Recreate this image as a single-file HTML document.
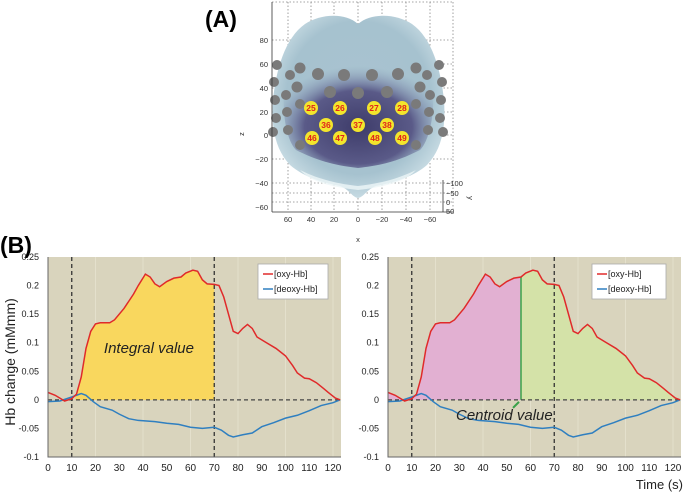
<!DOCTYPE html>
<html><head><meta charset="utf-8">
<style>
html,body{margin:0;padding:0;background:#fff;}
svg{display:block;font-family:"Liberation Sans",Arial,sans-serif;}
</style></head>
<body>
<svg id="fig" width="685" height="492" viewBox="0 0 685 492">
<defs>
<radialGradient id="headGrad" cx="0.5" cy="0.45" r="0.6">
<stop offset="0" stop-color="#a9c3d0"/><stop offset="0.7" stop-color="#a6c2cf"/><stop offset="1" stop-color="#d3e4ea"/>
</radialGradient>
<radialGradient id="darkGrad" cx="0.5" cy="0.6" r="0.6">
<stop offset="0" stop-color="#3e3c6a"/><stop offset="0.6" stop-color="#5a5a88"/><stop offset="1" stop-color="#8fa3bd" stop-opacity="0"/>
</radialGradient>
</defs>

<!-- Panel A -->
<text x="205" y="27" font-size="23" font-weight="bold">(A)</text>
<g>
  <g stroke="#888" stroke-width="0.8" stroke-dasharray="1.5,2" fill="none">
    <line x1="288" y1="2" x2="288" y2="210"/><line x1="311" y1="2" x2="311" y2="210"/><line x1="334" y1="2" x2="334" y2="210"/>
    <line x1="358" y1="2" x2="358" y2="210"/><line x1="382" y1="2" x2="382" y2="210"/><line x1="406" y1="2" x2="406" y2="210"/><line x1="430" y1="2" x2="430" y2="210"/>
    <line x1="272" y1="40" x2="453" y2="40"/><line x1="272" y1="64" x2="453" y2="64"/><line x1="272" y1="88" x2="453" y2="88"/>
    <line x1="272" y1="112" x2="453" y2="112"/><line x1="272" y1="135" x2="453" y2="135"/><line x1="272" y1="159" x2="453" y2="159"/>
    <line x1="272" y1="183" x2="453" y2="183"/><line x1="272" y1="193" x2="453" y2="193"/><line x1="272" y1="202" x2="453" y2="202"/>
    <line x1="272" y1="2" x2="453" y2="2"/><line x1="453" y1="2" x2="453" y2="210"/>
  </g>
  <path d="M358,24 C345,12 320,14 305,24 C285,38 276,70 273,100 C271,130 276,150 290,165 C305,178 325,183 340,186 C350,190 352,197 358,198 C364,197 366,190 376,186 C391,183 412,178 427,165 C441,150 446,130 444,100 C441,70 432,38 412,24 C397,14 372,12 358,24 Z" fill="url(#headGrad)"/>
  <path d="M285,80 C300,70 330,66 358,66 C386,66 416,70 432,80 C436,110 430,140 420,150 C400,160 385,165 358,168 C332,165 316,160 296,150 C286,140 281,110 285,80 Z" fill="url(#darkGrad)"/>
  <path d="M300,170 C320,180 340,184 358,186 C376,184 396,180 416,170 C405,182 385,187 358,190 C331,187 311,182 300,170 Z" fill="#eef6f8" opacity="0.8"/>
  <g fill="#7a7a7a">
    <circle cx="277" cy="65" r="5"/><circle cx="274" cy="82" r="5"/><circle cx="275" cy="100" r="5"/><circle cx="276" cy="118" r="5"/><circle cx="273" cy="132" r="5"/>
    <circle cx="290" cy="75" r="5"/><circle cx="286" cy="95" r="5"/><circle cx="287" cy="112" r="5"/><circle cx="288" cy="130" r="5"/>
    <circle cx="300" cy="68" r="5.5"/><circle cx="297" cy="87" r="5.5"/><circle cx="300" cy="104" r="5"/><circle cx="300" cy="145" r="5"/>
    <circle cx="318" cy="74" r="6"/><circle cx="344" cy="75" r="6"/><circle cx="330" cy="92" r="6"/><circle cx="358" cy="93" r="6"/><circle cx="387" cy="92" r="6"/>
    <circle cx="372" cy="75" r="6"/><circle cx="398" cy="74" r="6"/><circle cx="416" cy="68" r="5.5"/><circle cx="420" cy="87" r="5.5"/><circle cx="416" cy="104" r="5"/><circle cx="416" cy="145" r="5"/>
    <circle cx="427" cy="75" r="5"/><circle cx="430" cy="95" r="5"/><circle cx="429" cy="112" r="5"/><circle cx="428" cy="130" r="5"/>
    <circle cx="439" cy="65" r="5"/><circle cx="442" cy="82" r="5"/><circle cx="441" cy="100" r="5"/><circle cx="440" cy="118" r="5"/><circle cx="443" cy="132" r="5"/>
  </g>
  <g font-size="8.5" font-weight="bold" fill="#e0231b" text-anchor="middle">
    <circle cx="311" cy="108" r="7" fill="#f3e52c"/><text x="311" y="111">25</text>
    <circle cx="340" cy="108" r="7" fill="#f3e52c"/><text x="340" y="111">26</text>
    <circle cx="374" cy="108" r="7" fill="#f3e52c"/><text x="374" y="111">27</text>
    <circle cx="402" cy="108" r="7" fill="#f3e52c"/><text x="402" y="111">28</text>
    <circle cx="326" cy="125" r="7" fill="#f3e52c"/><text x="326" y="128">36</text>
    <circle cx="358" cy="125" r="7" fill="#f3e52c"/><text x="358" y="128">37</text>
    <circle cx="387" cy="125" r="7" fill="#f3e52c"/><text x="387" y="128">38</text>
    <circle cx="312" cy="138" r="7" fill="#f3e52c"/><text x="312" y="141">46</text>
    <circle cx="340" cy="138" r="7" fill="#f3e52c"/><text x="340" y="141">47</text>
    <circle cx="375" cy="138" r="7" fill="#f3e52c"/><text x="375" y="141">48</text>
    <circle cx="402" cy="138" r="7" fill="#f3e52c"/><text x="402" y="141">49</text>
  </g>
  <g stroke="#333" stroke-width="0.8" fill="none">
    <line x1="272" y1="2" x2="272" y2="212"/><line x1="272" y1="212" x2="453" y2="212"/><line x1="443" y1="180" x2="443" y2="212"/>
  </g>
  <g font-size="7.5" fill="#333">
    <g text-anchor="end">
      <text x="268" y="43">80</text><text x="268" y="67">60</text><text x="268" y="91">40</text><text x="268" y="115">20</text><text x="268" y="138">0</text>
      <text x="268" y="162">−20</text><text x="268" y="186">−40</text><text x="268" y="210">−60</text>
    </g>
    <g text-anchor="middle">
      <text x="288" y="222">60</text><text x="311" y="222">40</text><text x="334" y="222">20</text><text x="358" y="222">0</text>
      <text x="382" y="222">−20</text><text x="406" y="222">−40</text><text x="430" y="222">−60</text>
      <text x="358" y="242">x</text>
    </g>
    <text x="446" y="186">−100</text><text x="446" y="196">−50</text><text x="446" y="205">0</text><text x="446" y="214">50</text>
    <text x="244" y="134" transform="rotate(-90 244 134)" text-anchor="middle">z</text>
    <text x="468" y="198" transform="rotate(90 468 198)" text-anchor="middle">y</text>
  </g>
</g>

<!-- Panel B -->
<text x="0" y="253" font-size="23" font-weight="bold">(B)</text>
<text x="15" y="362" font-size="14" fill="#222" text-anchor="middle" transform="rotate(-90 15 362)">Hb change (mMmm)</text>
<text x="683" y="489" font-size="13" fill="#222" text-anchor="end">Time (s)</text>
<g id="chartL"></g>
<g id="chartR"></g>
</svg>

<script>
const oxyT = [0,3,5,7,10,12,14,16,18,20,22,26,28,32,36,38,41,43,45,47,50,53,56,58,61,63,65,67,70,72,74,76,78,80,82,84,86,88,92,96,100,103,105,108,110,113,116,118,121,123];
const oxyV = [0.013,0.008,0.003,-0.002,0.002,0.01,0.04,0.09,0.12,0.133,0.135,0.135,0.14,0.16,0.185,0.2,0.22,0.215,0.203,0.198,0.207,0.213,0.215,0.222,0.227,0.225,0.21,0.203,0.202,0.2,0.18,0.15,0.12,0.116,0.125,0.132,0.125,0.11,0.1,0.09,0.077,0.06,0.047,0.038,0.037,0.03,0.02,0.013,0.003,0];
const deoxyT = [0,5,10,14,16,19,22,27,30,34,38,45,50,55,60,65,70,73,76,78,82,86,90,95,100,105,110,115,120,123];
const deoxyV = [-0.003,-0.002,0.005,0.011,0.008,-0.003,-0.012,-0.018,-0.025,-0.033,-0.036,-0.038,-0.041,-0.043,-0.048,-0.05,-0.048,-0.053,-0.062,-0.065,-0.061,-0.058,-0.047,-0.04,-0.032,-0.027,-0.019,-0.01,-0.005,0];
const xTicks = [0,10,20,30,40,50,60,70,80,90,100,110,120];
const yTicks = [0.25,0.2,0.15,0.1,0.05,0,-0.05,-0.1];
const yTickLabels = ["0.25","0.2","0.15","0.1","0.05","0","-0.05","-0.1"];
const stimOn = 10, stimOff = 70, centroid = 56;

const NS = "http://www.w3.org/2000/svg";
function mk(parent, tag, attrs){const e=document.createElementNS(NS,tag);for(const k in attrs)e.setAttribute(k,attrs[k]);parent.appendChild(e);return e;}

function interpOxy(t){for(let i=1;i<oxyT.length;i++){if(t<=oxyT[i]){const f=(t-oxyT[i-1])/(oxyT[i]-oxyT[i-1]);return oxyV[i-1]+f*(oxyV[i]-oxyV[i-1]);}}return oxyV[oxyV.length-1];}

function areaPath(sx, sy, t0, t1){
  let d = "M"+sx(t0)+","+sy(0)+" L"+sx(t0)+","+sy(Math.max(0,interpOxy(t0)));
  for(let i=0;i<oxyT.length;i++){if(oxyT[i]>t0&&oxyT[i]<t1)d+=" L"+sx(oxyT[i])+","+sy(Math.max(0,oxyV[i]));}
  d+=" L"+sx(t1)+","+sy(Math.max(0,interpOxy(t1)))+" L"+sx(t1)+","+sy(0)+" Z";
  return d;
}

function drawChart(g, left, mode){
  const x0=left, xr=left+293, top=257, bot=457;
  const sx = t => x0 + t*2.375;
  const sy = v => top + (0.25-v)/0.35*(bot-top);
  const bg = mk(g,'rect',{x:x0,y:top,width:xr-x0,height:bot-top,fill:'#d9d4bd'});
  
  
  for(let t=20;t<=120;t+=20){const gl=mk(g,'line',{x1:sx(t),y1:top,x2:sx(t),y2:bot,stroke:'#e4e0cc','stroke-width':1});
    
    }
  if(mode==='integral'){
    const a=mk(g,'path',{d:areaPath(sx,sy,stimOn+1.5,stimOff),fill:'#f9d75e'});
    
    
  } else {
    const a=mk(g,'path',{d:areaPath(sx,sy,0,centroid),fill:'#e2b0d2'});
    
    
    const b=mk(g,'path',{d:areaPath(sx,sy,centroid,123),fill:'#d4e2a8'});
    
    
    const c=mk(g,'line',{x1:sx(centroid),y1:sy(0),x2:sx(centroid),y2:sy(interpOxy(centroid)),stroke:'#3aa24a','stroke-width':1.5});
    
    
  }
  mk(g,'line',{x1:x0,y1:sy(0),x2:xr,y2:sy(0),stroke:'#444','stroke-width':1.3,'stroke-dasharray':'4,3'});
  for(const t of [stimOn,stimOff]){const l=mk(g,'line',{x1:sx(t),y1:top,x2:sx(t),y2:bot,stroke:'#333','stroke-width':1.3,'stroke-dasharray':'4,3'});
    
    }
  const pd=deoxyT.map((t,i)=>(i?'L':'M')+sx(t)+','+sy(deoxyV[i])).join(' ');
  const dl=mk(g,'path',{d:pd,fill:'none',stroke:'#2f7fc0','stroke-width':1.5});
  
  
  const po=oxyT.map((t,i)=>(i?'L':'M')+sx(t)+','+sy(oxyV[i])).join(' ');
  const ol=mk(g,'path',{d:po,fill:'none',stroke:'#e02a2a','stroke-width':1.5});
  
  
  mk(g,'path',{d:'M'+x0+','+top+' L'+x0+','+bot+' L'+xr+','+bot,fill:'none',stroke:'#666','stroke-width':1});
  yTicks.forEach((v,i)=>{const tx=mk(g,'text',{x:x0-9,y:sy(v)+3,'font-size':9,'text-anchor':'end',fill:'#222'});tx.textContent=yTickLabels[i];
    
    });
  xTicks.forEach(t=>{const tx=mk(g,'text',{x:sx(t),y:bot+14,'font-size':10,'text-anchor':'middle',fill:'#222'});tx.textContent=t;
    
    });
  const lx = mode==='integral'? left+210 : left+204;
  const lg=mk(g,'g',{});
  
  
  mk(lg,'rect',{x:lx,y:264,width:mode==='integral'?70:74,height:35,fill:'#fff',stroke:'#aaa','stroke-width':0.8});
  mk(lg,'line',{x1:lx+5,y1:274,x2:lx+15,y2:274,stroke:'#e02a2a','stroke-width':1.5});
  mk(lg,'line',{x1:lx+5,y1:289,x2:lx+15,y2:289,stroke:'#2f7fc0','stroke-width':1.5});
  const t1=mk(lg,'text',{x:lx+16,y:277,'font-size':9,fill:'#222'});t1.textContent='[oxy-Hb]';
  const t2=mk(lg,'text',{x:lx+16,y:292,'font-size':9,fill:'#222'});t2.textContent='[deoxy-Hb]';
  if(mode==='integral'){
    const a=mk(g,'text',{x:sx(42.5),y:sy(0.082),'font-size':15,'font-style':'italic','text-anchor':'middle',fill:'#222'});a.textContent='Integral value';
    
    
  } else {
    const a=mk(g,'text',{x:sx(49),y:sy(-0.035),'font-size':15,'font-style':'italic','text-anchor':'middle',fill:'#222'});a.textContent='Centroid value';
    
    
    mk(g,'path',{d:'M'+(sx(centroid)-8)+','+(sy(0)+8)+' L'+(sx(centroid)-2)+','+(sy(0)+2),stroke:'#3aa24a','stroke-width':2});
  }
}
drawChart(document.getElementById('chartL'),48,'integral');
drawChart(document.getElementById('chartR'),388,'centroid');
</script>
</body></html>
